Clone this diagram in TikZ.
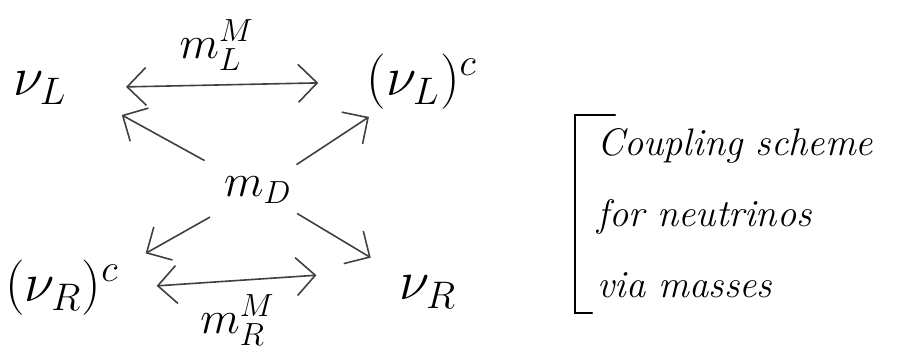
\documentclass[tikz,border=0pt]{standalone}
\usepackage{amsmath,amssymb}
\usepackage{tikz}
\usetikzlibrary{arrows.meta,positioning,calc}

\begin{document}
\begin{tikzpicture}[
  x=0.375pt, y=-0.375pt,
  part/.style={font=\huge, inner sep=2pt},
  mass/.style={font=\LARGE, inner sep=1pt, text=black},
  link/.style={{Straight Barb[length=2.5mm]}-{Straight Barb[length=2.5mm]}, semithick, black!75},
  feed/.style={-{Straight Barb[length=2.5mm]}, semithick, black!75},
  brk/.style={thick, line cap=round},
  note/.style={font=\Large\itshape, align=left, inner sep=0pt}]
\useasboundingbox (0,0) rectangle (910,353);

\node[part] (vL)  at (40,88)   {$\nu_L$};
\node[part] (vLc) at (422,82)  {$(\nu_L)^c$};
\node[mass] (mD)  at (258,190) {$m_D$};
\node[part] (vRc) at (62,288)  {$(\nu_R)^c$};
\node[part] (vR)  at (428,292) {$\nu_R$};

% Majorana links
\draw[link, shorten <=20pt, shorten >=16pt] (vL.east) --
      node[mass, above=4pt] (mLM) {$m_L^M$} (vLc.west);
\draw[link, shorten <=12pt, shorten >=29pt] (vRc.east) --
      node[mass, below=4pt, pos=0.42] (mRM) {$m_R^M$} (vR.north west);

% Dirac links
\draw[feed, shorten <=10pt, shorten >=21pt] (mD) -- (vL.east);
\draw[feed, shorten <=6pt, shorten >=1pt] (mD) -- (vLc);
\draw[feed, shorten <=8pt, shorten >=9pt] (mD) -- (vRc.20);
\draw[feed, shorten <=5pt, shorten >=10pt] (mD) -- (vR);

\node[note, anchor=north west] (txt) at (597,128)
      {Coupling scheme\\[8.6pt]for neutrinos\\[8.6pt]via masses};
\draw[brk] ($(txt.north west)+(18,-13)$) -- ($(txt.north west)+(-22,-13)$)
      |- ($(txt.south west)+(-5,15)$);
\end{tikzpicture}
\end{document}
